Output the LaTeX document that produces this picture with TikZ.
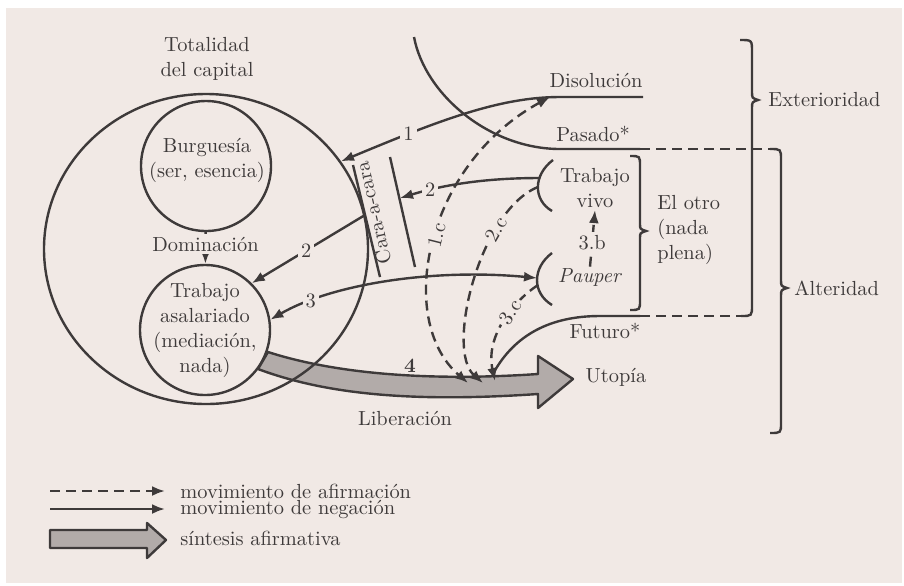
\documentclass[tikz,border=0pt]{standalone}
\usepackage{tikz}
\usetikzlibrary{decorations,arrows.meta,shapes}
\definecolor{tinta}{RGB}{62,58,58}
\definecolor{fondo}{RGB}{241,233,229}
\definecolor{banda}{RGB}{178,171,169}
\newcommand{\grosor}{1.2pt}

\begin{document}
\begin{tikzpicture}[x=0.5pt,y=-0.5pt,>={Latex[length=6.5pt,width=5pt]}]
            \tikzset{every node/.style={text=tinta, font=\fontsize{10.2}{12.5}\selectfont, inner sep=1pt},
                     linea/.style={draw=tinta, line width=\grosor},
                     neg/.style={linea, ->},
                     afirm/.style={neg, dash pattern=on 5pt off 3pt},
                     lbl/.style={fill=fondo, inner sep=1.5pt},
                     sintesis/.style={fill=banda, draw=tinta, line width=\grosor, line join=round}}
            \useasboundingbox (0,0) rectangle (904,585);
            \fill[white] (0,0) rectangle (904,585);
            \fill[fondo] (6,8) rectangle (902,583);
            \filldraw[sintesis] (268,352) .. controls (330,372) and (420,382) .. (538,374) -- (538,356) -- (573,379)
                -- (538,408) -- (538,394) .. controls (420,402) and (330,396) .. (258,369) -- cycle;
            \node[linea, ellipse, minimum width=162pt, minimum height=155pt] (total) at (206,249) {};
            \node[linea, circle, minimum size=65pt] (burg) at (206,166) {};
            \node[linea, circle, fill=fondo, minimum size=65pt] (asal) at (205,330) {};
            \node[align=center] (totaltxt) at (207,59) {Totalidad\\del capital};
            \node[align=center] (burgtxt) at (207,160) {Burguesía\\(ser, esencia)};
            \node[align=center] (asaltxt) at (205,330) {Trabajo\\asalariado\\(mediación,\\nada)};
            \draw[neg] (burg) -- (asal) node[lbl, pos=.38] (domin) {Dominación};

            \coordinate (cl1) at (353,165);
            \coordinate (cl2) at (380,277);
            \coordinate (cr1) at (390,157);
            \coordinate (cr2) at (415,267);
            \draw[linea] (cl1) -- (cl2);
            \draw[linea] (cr1) -- (cr2);
            \node[rotate=103] (cara) at (373,213) {Cara-a-cara};

            \coordinate (dis) at (643,97);
            \coordinate (dis1) at (560,97);
            \coordinate (dis2) at (550,97);
            \coordinate (pas0) at (414,37);
            \coordinate (pas1) at (640,149);
            \coordinate (alt0) at (770,149);
            \coordinate (fut0) at (494,372);
            \coordinate (fut1) at (640,316);
            \coordinate (ext0) at (741,316);
            \draw[neg] (dis) -- (dis1) .. controls (500,97) and (440,120) .. (total.33) node[lbl, pos=.75] (uno) {1};
            \draw[linea] (pas0) .. controls (425,95) and (490,149) .. (560,149) -- (pas1);
            \draw[linea, dash pattern=on 5pt off 3pt] (pas1) -- (alt0);
            \draw[linea] (fut0) .. controls (515,335) and (550,316) .. (600,316) -- (fut1);
            \draw[linea, dash pattern=on 5pt off 3pt] (fut1) -- (ext0);
            \node (distxt) at (596,80) {Disolución};
            \node (pastxt) at (593,134) {Pasado*};
            \node (futtxt) at (605,331) {Futuro*};

            \draw[linea] (740,40) .. controls (752,40) .. (752,52) -- (752,92) .. controls (752,98) .. (758,100)
                .. controls (752,102) .. (752,108) -- (752,305) .. controls (752,316) .. (ext0);
            \draw[linea] (alt0) .. controls (781,149) .. (781,160) -- (781,280) .. controls (781,286) .. (787,288)
                .. controls (781,290) .. (781,296) -- (781,423) .. controls (781,433) .. (770,433);
            \draw[linea] (630,156) .. controls (640,156) .. (640,166) -- (640,224) .. controls (640,229) .. (646,231)
                .. controls (640,233) .. (640,238) -- (640,300) .. controls (640,310) .. (630,310);
            \node[anchor=west] (exttxt) at (766,100) {Exterioridad};
            \node[anchor=west] (alttxt) at (792,288) {Alteridad};
            \node[anchor=west, align=left] (otro) at (655,230) {El otro\\(nada\\plena)};

            \draw[linea] (553,160) .. controls (533,175) and (533,200) .. (552,211);
            \draw[linea] (552,253) .. controls (532,268) and (532,293) .. (552,305);
            \coordinate (vivo) at (540,178);
            \coordinate (vivo2) at (538,187);
            \coordinate (pau) at (537,278);
            \coordinate (pau2) at (538,285);
            \node[align=center] (vivotxt) at (595,188) {Trabajo\\vivo};
            \node (pautxt) at (590,278) {\textit{Pauper}};
            \draw[afirm] (pautxt.north) -- (vivotxt.south) node[lbl, pos=.43] (tresb) {3.b};

            \coordinate (c2a) at (365,215);
            \coordinate (c2b) at (400,198);
            \draw[neg] (vivo) .. controls (480,178) and (440,186) .. (c2b) node[lbl, pos=.75] (dos) {2};
            \draw[neg] (c2a) -- (asal.45) node[lbl, pos=.52] (dosb) {2};
            \draw[linea, <->] (asal.9) .. controls (330,285) and (430,268) .. (pau) node[lbl, pos=.2] (tres) {3};

            \coordinate (e1) at (468,383);
            \coordinate (e2) at (483,383);
            \coordinate (e3) at (495,381);
            \draw[afirm, <->] (dis2) .. controls (425,165) and (395,320) .. (e1) node[lbl, pos=.48, rotate=76] (unoc) {1.c};
            \draw[afirm] (vivo2) .. controls (480,210) and (445,350) .. (e2) node[lbl, pos=.28, rotate=60] (dosc) {2.c};
            \draw[afirm] (pau2) .. controls (515,300) and (485,335) .. (e3) node[lbl, pos=.4, rotate=56] (tresc) {3.c};

            \node (cuatro) at (410,366) {\textbf{4}};
            \node (libtxt) at (405,418) {Liberación};
            \node (utotxt) at (616,377) {Utopía};

            \coordinate (l1) at (50,491);
            \coordinate (l2) at (50,509);
            \node[anchor=west] (leg1) at (178,491) {movimiento de afirmación};
            \node[anchor=west] (leg2) at (178,509) {movimiento de negación};
            \node[anchor=west] (leg3) at (178,538) {síntesis afirmativa};
            \draw[afirm, shorten >=6.5pt] (l1) -- (leg1.west);
            \draw[neg, shorten >=6.5pt] (l2) -- (leg2.west);
            \filldraw[sintesis] (50,530) -- (147,530) -- (147,523) -- (166,540) -- (147,558) -- (147,548) -- (50,548) -- cycle;
        \end{tikzpicture}
\end{document}
